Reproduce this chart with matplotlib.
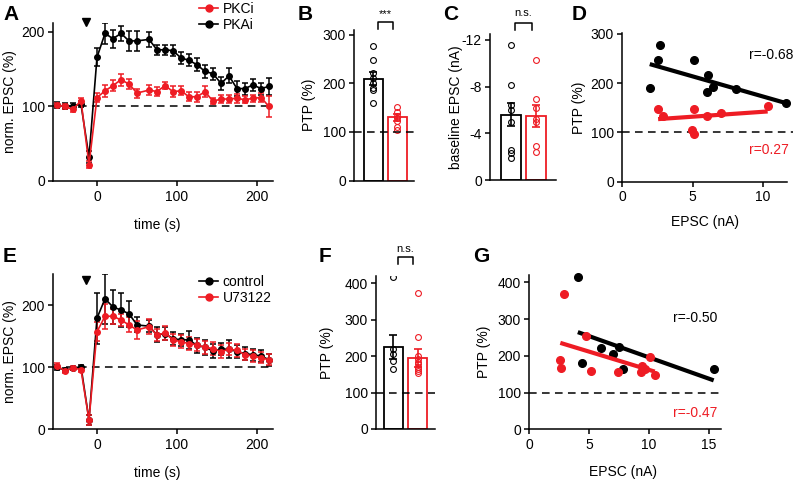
import numpy as np
import matplotlib
matplotlib.use('Agg')
import matplotlib.pyplot as plt
from matplotlib.lines import Line2D

plt.rcParams['font.family'] = ['Liberation Sans', 'DejaVu Sans']
plt.rcParams['font.size'] = 10
plt.rcParams['axes.unicode_minus'] = False
plt.rcParams['axes.linewidth'] = 1.1
plt.rcParams['xtick.major.width'] = 1.1
plt.rcParams['ytick.major.width'] = 1.1
plt.rcParams['xtick.major.size'] = 3.8
plt.rcParams['ytick.major.size'] = 3.8
plt.rcParams['xtick.major.pad'] = 2.5
plt.rcParams['ytick.major.pad'] = 2

RED = '#ee1c24'
BLK = 'black'
DASH = (0, (5, 3.5))

# ---- data ----
# A and E: time course
t = [-50, -40, -30, -20, -10, 0, 10, 20, 30, 40, 50, 65, 75, 85, 95, 105,
     115, 125, 135, 145, 155, 165, 175, 185, 195, 205, 215]

pkai = [102, 100, 101, 103, 32, 166, 198, 191, 198, 188, 188, 190, 176, 176, 175, 165,
        162, 156, 147, 144, 131, 141, 124, 124, 129, 124, 127]
pkai_err = [4, 4, 4, 4, 8, 12, 14, 12, 10, 13, 13, 10, 7, 7, 7, 8,
            8, 9, 9, 8, 9, 10, 10, 8, 8, 8, 11]
pkci = [102, 100, 96, 108, 22, 112, 121, 128, 136, 130, 118, 122, 120, 128, 120, 121,
        113, 113, 120, 107, 110, 110, 111, 109, 111, 112, 100]
pkci_err = [3, 3, 4, 4, 5, 6, 8, 7, 8, 7, 6, 7, 6, 5, 7, 6,
            6, 7, 7, 4, 6, 6, 6, 5, 5, 6, 14]

ctrl = [100, 95, 98, 101, 15, 179, 210, 197, 192, 186, 168, 166, 152, 154, 146, 144,
        144, 135, 132, 126, 129, 129, 125, 122, 120, 118, 112]
ctrl_err = [4, 3, 3, 3, 8, 41, 40, 27, 27, 21, 12, 10, 12, 10, 10, 10,
            14, 12, 12, 12, 10, 14, 10, 10, 10, 10, 10]
u73 = [102, 94, 99, 96, 15, 157, 182, 182, 176, 168, 160, 165, 152, 155, 144, 141,
       138, 136, 132, 130, 125, 129, 127, 120, 118, 115, 112]
u73_err = [4, 3, 3, 3, 8, 15, 20, 12, 10, 12, 15, 12, 10, 12, 10, 10,
           10, 10, 10, 10, 10, 10, 10, 9, 9, 9, 9]

# B: PTP bars
ptpB_mean = [210, 130]
ptpB_sem = [14, 8]
ptpB_pkai = [278, 249, 222, 212, 200, 190, 186, 160]
ptpB_pkci = [152, 142, 133, 128, 122, 110, 105]

# C: baseline EPSC
epscC_mean = [-5.6, -5.45]
epscC_sem = [1.0, 0.95]
epscC_pkai = [-11.6, -8.1, -6.4, -6.0, -5.0, -2.6, -2.3, -1.9]
epscC_pkci = [-10.3, -6.9, -6.2, -5.2, -5.0, -2.9, -2.4]

# D: correlation
d_pkai_x = [1.97, 2.56, 2.68, 5.07, 6.11, 6.04, 6.47, 8.06, 11.63]
d_pkai_y = [191, 248, 277, 248, 217, 183, 192, 188, 160]
d_pkci_x = [2.56, 2.91, 5.09, 4.98, 5.12, 6.04, 6.99, 10.33]
d_pkci_y = [148, 134, 148, 105, 96, 134, 139, 154]
d_fit_pkai = (-8.2, 255)   # slope, intercept
d_fit_pkci = (2.0, 122)

# F: PTP bars
ptpF_mean = [224, 195]
ptpF_sem = [33, 24]
ptpF_ctrl = [417, 220, 206, 186, 166]
ptpF_u73 = [372, 252, 200, 192, 185, 178, 170, 165, 160, 155]

# G: correlation
g_ctrl_x = [4.07, 4.38, 6.04, 6.97, 7.53, 7.81, 15.39]
g_ctrl_y = [415, 180, 220, 205, 224, 164, 164]
g_u73_x = [2.95, 2.61, 2.70, 4.78, 5.14, 7.45, 9.40, 9.35, 9.70, 10.11, 10.48]
g_u73_y = [369, 189, 166, 253, 159, 155, 171, 157, 165, 198, 148]
g_fit_ctrl = (-11.6, 311.7)
g_fit_u73 = (-9.94, 261.2)

# ---- figure ----
W, H = 794, 482
fig = plt.figure(figsize=(W / 100, H / 100), dpi=100)


def box(l, t_, r, b):
    ax = fig.add_axes([l / W, 1 - b / H, (r - l) / W, (b - t_) / H])
    ax.spines['top'].set_visible(False)
    ax.spines['right'].set_visible(False)
    ax.patch.set_alpha(0)
    return ax, (l, t_, r, b)


def labels(ax, rect, ylab, yl_right, xlab=None, xl_top=None, xl_center=None):
    l, t_, r, b = rect
    ax.set_ylabel(ylab)
    ax.yaxis.set_label_coords((yl_right - l) / (r - l), 0.5)
    if xlab:
        ax.set_xlabel(xlab)
        ax.xaxis.set_label_coords((xl_center - l) / (r - l), -(xl_top - b) / (b - t_))


def ftext(x, y, s, **kw):
    fig.text(x / W, 1 - y / H, s, **kw)


def letter(x, y, s):
    ftext(x, y, s, fontsize=15, fontweight='bold', va='top', ha='left')


def timecourse(ax, y1, e1, c1, y2, e2, c2):
    for y, e, c in [(y1, e1, c1), (y2, e2, c2)]:
        ax.errorbar(t, y, yerr=e, color=c, marker='o', ms=4, lw=1.2,
                    elinewidth=1.1, capsize=2.5, capthick=1.1)
    ax.axhline(100, color='black', ls=DASH, lw=1.1, zorder=0)
    ax.set_xlim(-55, 220)
    ax.set_xticks([0, 100, 200])


def bars(ax, means, sems, pts1, pts2):
    cols = [BLK, RED]
    for i, (m, s, p) in enumerate(zip(means, sems, [pts1, pts2])):
        ax.bar(i, m, width=0.78, facecolor='white', edgecolor=cols[i], lw=1.3, zorder=1)
        ax.errorbar(i, m, yerr=s, color=cols[i], capsize=3, elinewidth=1.2, capthick=1.2, zorder=3)
        ax.plot([i] * len(p), p, 'o', mfc='none', mec=cols[i], ms=4.2, mew=0.8, zorder=2)
    ax.tick_params(axis='x', length=0, labelbottom=False)


def bracket(ax, x0, x1, ytop, ybot, txt, ytxt):
    ax.plot([x0, x0, x1, x1], [ybot, ytop, ytop, ybot], color='black', lw=1.1, clip_on=False)
    ax.text((x0 + x1) / 2, ytxt, txt, ha='center', va='center', fontsize=8, clip_on=False)


def scatter_fit(ax, x, y, fit, c):
    ax.plot(x, y, 'o', color=c, ms=5.5, clip_on=False)
    xs = np.array([min(x), max(x)])
    ax.plot(xs, fit[0] * xs + fit[1], color=c, lw=3, solid_capstyle='butt')


# A
axA, rA = box(53, 23, 273, 181)
timecourse(axA, pkai, pkai_err, BLK, pkci, pkci_err, RED)
axA.set_ylim(0, 212)
axA.set_yticks([0, 100, 200])
axA.plot([-14], [213], 'v', color='black', ms=6, clip_on=False)
labels(axA, rA, 'norm. EPSC (%)', 17, 'time (s)', 218, 157)
axA.legend(handles=[Line2D([], [], color=RED, marker='o', ms=5, lw=1.2, label='PKCi'),
                    Line2D([], [], color=BLK, marker='o', ms=5, lw=1.2, label='PKAi')],
           loc='upper left', bbox_to_anchor=(199 / W, 1 - 2 / H), bbox_transform=fig.transFigure,
           frameon=False, borderpad=0, borderaxespad=0, handlelength=1.4, handletextpad=0.3,
           labelspacing=0.15, fontsize=10)
letter(3, 5, 'A')

# B
axB, rB = box(354, 30, 414, 180.5)
bars(axB, ptpB_mean, ptpB_sem, ptpB_pkai, ptpB_pkci)
axB.axhline(100, color='black', ls=DASH, lw=1.1, zorder=4)
axB.set_xlim(-0.8, 1.7)
axB.set_ylim(0, 310)
axB.set_yticks([0, 100, 200, 300])
bracket(axB, 0.19, 0.81, 327, 312, '***', 342)
labels(axB, rB, 'PTP (%)', 316)
letter(298, 5, 'B')

# C
axC, rC = box(490, 34, 556, 180)
bars(axC, epscC_mean, epscC_sem, epscC_pkai, epscC_pkci)
axC.set_xlim(-0.84, 1.8)
axC.set_ylim(0, -12.5)
axC.set_yticks([0, -4, -8, -12])
bracket(axC, 0.16, 0.83, -13.45, -12.85, 'n.s.', -14.3)
labels(axC, rC, 'baseline EPSC (nA)', 463)
letter(443, 5, 'C')

# D
axD, rD = box(622, 33, 787, 181.7)
scatter_fit(axD, d_pkai_x, d_pkai_y, d_fit_pkai, BLK)
scatter_fit(axD, d_pkci_x, d_pkci_y, d_fit_pkci, RED)
axD.plot([0, 12.1], [100, 100], color='black', ls=DASH, lw=1.1, clip_on=False, zorder=0)
axD.set_xlim(0, 11.7)
axD.set_ylim(0, 302)
axD.set_xticks([0, 5, 10])
axD.set_yticks([0, 100, 200, 300])
labels(axD, rD, 'PTP (%)', 586, 'EPSC (nA)', 215, 705)
ftext(793, 55, 'r=-0.68', ha='right', va='center', color=BLK)
ftext(789, 150, 'r=0.27', ha='right', va='center', color=RED)
letter(572, 5, 'D')

# E
axE, rE = box(53, 274, 273, 429.3)
timecourse(axE, ctrl, ctrl_err, BLK, u73, u73_err, RED)
axE.set_ylim(0, 250)
axE.set_yticks([0, 100, 200])
axE.plot([-14], [240], 'v', color='black', ms=6, clip_on=False)
labels(axE, rE, 'norm. EPSC (%)', 17, 'time (s)', 466, 157)
axE.legend(handles=[Line2D([], [], color=BLK, marker='o', ms=5, lw=1.2, label='control'),
                    Line2D([], [], color=RED, marker='o', ms=5, lw=1.2, label='U73122')],
           loc='upper left', bbox_to_anchor=(199 / W, 1 - 275 / H), bbox_transform=fig.transFigure,
           frameon=False, borderpad=0, borderaxespad=0, handlelength=1.4, handletextpad=0.3,
           labelspacing=0.15, fontsize=10)
letter(3, 247, 'E')

# F
axF, rF = box(376, 276, 435, 429)
bars(axF, ptpF_mean, ptpF_sem, ptpF_ctrl, ptpF_u73)
axF.axhline(100, color='black', ls=DASH, lw=1.1, zorder=4)
axF.set_xlim(-0.71, 1.7)
axF.set_ylim(0, 420)
axF.set_yticks([0, 100, 200, 300, 400])
bracket(axF, 0.17, 0.8, 472, 453, 'n.s.', 494)
labels(axF, rF, 'PTP (%)', 334)
letter(319, 247, 'F')

# G
axG, rG = box(529, 275, 721, 429.3)
scatter_fit(axG, g_ctrl_x, g_ctrl_y, g_fit_ctrl, BLK)
scatter_fit(axG, g_u73_x, g_u73_y, g_fit_u73, RED)
axG.axhline(100, color='black', ls=DASH, lw=1.1, zorder=0)
axG.set_xlim(0, 16)
axG.set_ylim(0, 420)
axG.set_xticks([0, 5, 10, 15])
axG.set_yticks([0, 100, 200, 300, 400])
labels(axG, rG, 'PTP (%)', 491, 'EPSC (nA)', 465, 623)
ftext(717, 318, 'r=-0.50', ha='right', va='center', color=BLK)
ftext(717, 413, 'r=-0.47', ha='right', va='center', color=RED)
letter(473, 247, 'G')

fig.savefig('out.png', dpi=100, facecolor='white')
